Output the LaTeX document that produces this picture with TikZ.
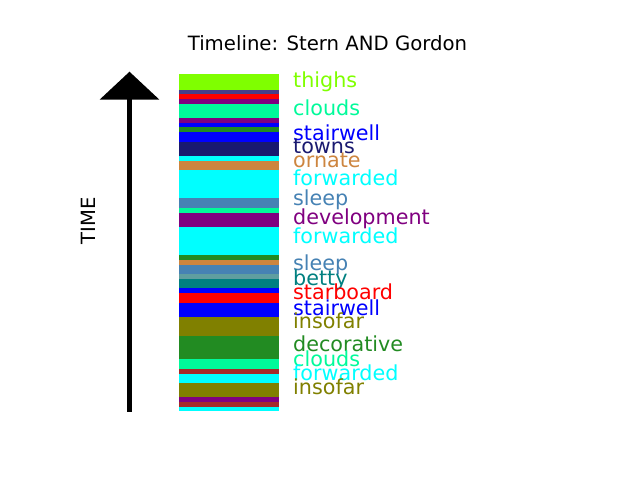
\documentclass[tikz,border=0pt]{standalone}
\usepackage{fontspec}
\setmainfont{DejaVu Sans}
\usepackage{xcolor}
\usetikzlibrary{arrows.meta}

\definecolor{chart}{HTML}{7FFF00}
\definecolor{dslate}{HTML}{483D8B}
\definecolor{redc}{HTML}{FF0000}
\definecolor{bluec}{HTML}{0000FF}
\definecolor{cyanc}{HTML}{00FFFF}
\definecolor{purp}{HTML}{800080}
\definecolor{mspring}{HTML}{00FA9A}
\definecolor{fgreen}{HTML}{228B22}
\definecolor{mnight}{HTML}{191970}
\definecolor{peru}{HTML}{CD853F}
\definecolor{steel}{HTML}{4682B4}
\definecolor{cadet}{HTML}{5F9EA0}
\definecolor{tealc}{HTML}{008080}
\definecolor{olivec}{HTML}{808000}
\definecolor{brownc}{HTML}{A52A2A}

\tikzset{
  wordlabel/.style={anchor=base west,inner sep=0pt,font=\fontsize{20.7}{24}\selectfont},
  timearrow/.style={line width=4.3pt,-{Triangle[width=59pt,length=28pt]}}
}

\begin{document}
\begin{tikzpicture}[x=1pt,y=-1pt]
  \useasboundingbox (0,0) rectangle (640,480);
  % title, axis label
  \node[anchor=base,inner sep=0pt,font=\fontsize{19.7}{23}\selectfont] (title) at (327.5,50) {Timeline: Stern AND Gordon};
  \node[rotate=90,inner sep=0pt,font=\fontsize{19.6}{23}\selectfont] (timelbl) at (88.5,220.5) {TIME};
  % arrow, pixels from top
  \coordinate (abot) at (129.5,411.7);
  \coordinate (atop) at (129.5,71.7);
  \draw[timearrow] (abot) -- (atop);
  % bands: top/bottom/colour
  \foreach \ya/\yb/\c in {74/90/chart, 90/94/dslate, 94/99/redc, 99/104/purp, 104/118/mspring,
      118/123/purp, 123/127/bluec, 127/132/fgreen, 132/142/bluec, 142/156/mnight,
      156/161/cyanc, 161/170/peru, 170/198/cyanc, 198/208/steel, 208/213/mspring,
      213/227/purp, 227/255/cyanc, 255/260/fgreen, 260/265/peru, 265/274/steel,
      274/279/cadet, 279/288/tealc, 288/293/bluec, 293/303/redc, 303/317/bluec,
      317/336/olivec, 336/359/fgreen, 359/369/mspring, 369/374/brownc, 374/383/cyanc,
      383/397/olivec, 397/402/purp, 402/407/brownc, 407/411/cyanc} {
    \fill[\c] (179,\ya) rectangle (279,\yb);
  }
  % word labels at baseline
  \foreach \yb/\txt/\c [count=\i] in {87/thighs/chart, 115.7/clouds/mspring, 140/stairwell/bluec,
      153.3/towns/mnight, 167.3/ornate/peru, 185.7/forwarded/cyanc, 205/sleep/steel,
      224.3/development/purp, 243.3/forwarded/cyanc, 270.7/sleep/steel, 285/betty/tealc,
      299.3/starboard/redc, 315/stairwell/bluec, 328.3/insofar/olivec, 351.7/decorative/fgreen,
      366/clouds/mspring, 380.3/forwarded/cyanc, 394.3/insofar/olivec} {
    \node[wordlabel,text=\c] (word\i) at (293,\yb) {\txt};
  }
\end{tikzpicture}
\end{document}
